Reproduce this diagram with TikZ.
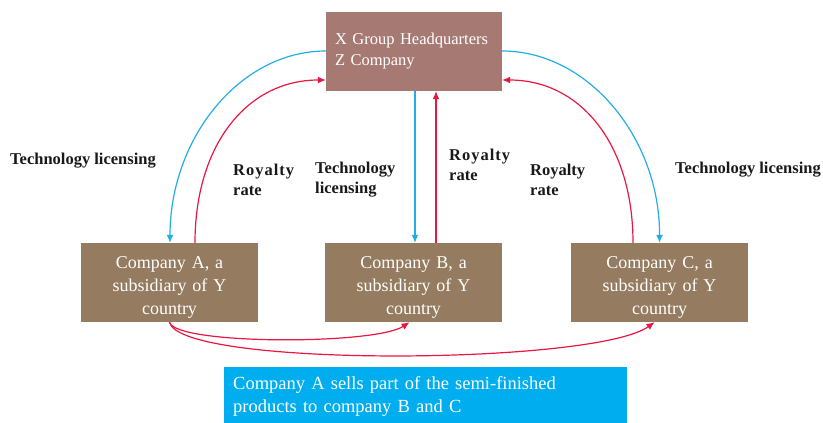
\documentclass[tikz,border=0pt]{standalone}
\usepackage{fontspec}
\setmainfont{Liberation Serif}
\usetikzlibrary{arrows.meta}
\definecolor{hqbrown}{HTML}{A67A72}
\definecolor{subbrown}{HTML}{957B5F}
\definecolor{notecyan}{HTML}{00AEEF}
\definecolor{licblue}{HTML}{22AEE4}
\definecolor{feered}{HTML}{E8173F}
\tikzset{box/.style={fill=#1,text=white,minimum height=79pt,inner sep=9pt,
 font=\fontsize{17}{22}\selectfont},
 subbox/.style={box=subbrown,minimum width=177pt,text width=159pt,align=center,
 inner ysep=3pt,font=\fontsize{18}{23}\selectfont},
 lbl/.style={anchor=west,inner sep=0pt,align=left,text=black!90,
 font=\fontsize{16.5}{20}\selectfont\bfseries},
 lic/.style={-{Latex[length=8pt,width=7pt]},line width=1.2pt,draw=licblue},
 fee/.style={-{Latex[length=8pt,width=7pt]},line width=1.2pt,draw=feered}}
\newcommand{\royalty}{{\addfontfeature{LetterSpace=6}Royalty}}
% pushes three-line box text down a little
\newcommand{\lowstrut}{\rule{0pt}{21pt}}

\begin{document}
\begin{tikzpicture}[x=1pt,y=-1pt]
\useasboundingbox (0,0) rectangle (823,423);
% headquarters and the three subsidiaries
\node[box=hqbrown,minimum width=176pt,text width=158pt,align=left,
 font=\fontsize{16.5}{21}\selectfont] (hq) at (414,51.5)
 {X Group Headquarters\\Z Company};
\node[subbox] (compA) at (169.5,282.5) {\lowstrut Company A, a\\subsidiary of Y\\country};
\node[subbox] (compB) at (413.5,282.5) {\lowstrut Company B, a\\subsidiary of Y\\country};
\node[subbox] (compC) at (659.5,282.5) {\lowstrut Company C, a\\subsidiary of Y\\country};
\node[box=notecyan,minimum width=403pt,minimum height=56pt,text width=385pt,align=left,
 anchor=north west,font=\fontsize{18.5}{23}\selectfont] (note) at (224,367)
 {Company A sells part of the semi-finished\\products to company B and C};
% flow labels
\node[lbl] (licA) at (10,161) {Technology licensing};
\node[lbl] (feeA) at (233,180) {\royalty\\rate};
\node[lbl] (licB) at (315,180) {Technology\\licensing};
\node[lbl] (feeB) at (449,165) {\royalty\\rate};
\node[lbl] (feeC) at (530,180) {Royalty\\rate};
\node[lbl] (licC) at (675,170) {Technology licensing};
% licensing goes down, royalties come back up
\draw[lic] ([yshift=0.5pt]hq.west) .. controls (240,51) and (170,138) .. ([xshift=0.5pt]compA.north);
\draw[fee] ([xshift=25.5pt]compA.north) .. controls (195,145) and (247,80) .. ([yshift=-28.5pt]hq.west);
\draw[lic] ([xshift=1pt]hq.south) -- ([xshift=1.5pt]compB.north);
\draw[fee] ([xshift=22.5pt]compB.north) -- ([xshift=22pt]hq.south);
\draw[fee] ([xshift=-26.5pt]compC.north) .. controls (633,145) and (581,80) .. ([yshift=-28.5pt]hq.east);
\draw[lic] ([yshift=0.5pt]hq.east) .. controls (588,51) and (660,138) .. (compC.north);
% semi-finished products from A
\draw[fee] (compA.south) .. controls (175,345) and (375,345) .. ([xshift=-4pt]compB.south);
\draw[fee] (compA.south) .. controls (180,368) and (595,365) .. ([xshift=-5pt]compC.south);
\end{tikzpicture}
\end{document}
